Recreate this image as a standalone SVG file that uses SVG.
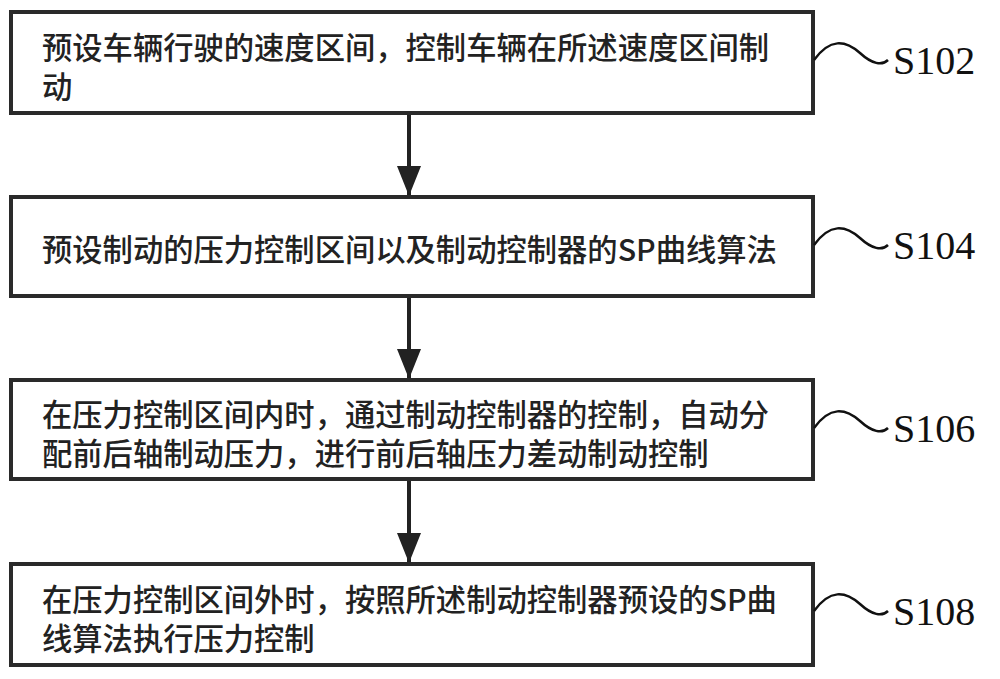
<svg xmlns="http://www.w3.org/2000/svg" width="1000" height="679" viewBox="0 0 1000 679">
<defs><marker id="ah" markerWidth="30" markerHeight="24" refX="30" refY="12" orient="auto" markerUnits="userSpaceOnUse" viewBox="0 0 30 24"><path d="M0,0 L30,12 L0,24 Z" fill="#222"/></marker></defs>
<style>
.box{fill:#fff;stroke:#2a2a2a;stroke-width:4}
.t{font-family:"Noto Sans CJK SC","Noto Sans",sans-serif;font-size:30.3px;fill:#222;font-weight:500}
.lab{font-family:"Liberation Serif",serif;font-size:40px;fill:#111}
.til{fill:none;stroke:#111;stroke-width:2.5}
.con{stroke:#222;stroke-width:4;fill:none}
</style>
<rect width="1000" height="679" fill="#fff"/>
<g id="connectors">
<line class="con" x1="409" y1="113" x2="409" y2="196" marker-end="url(#ah)"/>
<line class="con" x1="409" y1="296" x2="409" y2="379" marker-end="url(#ah)"/>
<line class="con" x1="409" y1="479" x2="409" y2="563" marker-end="url(#ah)"/>
</g>
<g id="n1"><rect class="box" x="11" y="12" width="802" height="101"/>
<text class="t" x="42" y="59">预设车辆行驶的速度区间，控制车辆在所述速度区间制</text><text class="t" x="42" y="98">动</text></g>
<g id="n2"><rect class="box" x="11" y="197" width="802" height="99"/>
<text class="t" x="42" y="261">预设制动的压力控制区间以及制动控制器的SP曲线算法</text></g>
<g id="n3"><rect class="box" x="11" y="380" width="802" height="99"/>
<text class="t" x="42" y="426">在压力控制区间内时，通过制动控制器的控制，自动分</text><text class="t" x="42" y="465">配前后轴制动压力，进行前后轴压力差动制动控制</text></g>
<g id="n4"><rect class="box" x="11" y="564" width="802" height="101"/>
<text class="t" x="42" y="611">在压力控制区间外时，按照所述制动控制器预设的SP曲</text><text class="t" x="42" y="650">线算法执行压力控制</text></g>
<g id="labels">
<path class="til" d="M814,60 C830,38 845,40 860,53 C872,64 882,66 888,60"/>
<text class="lab" x="893" y="74">S102</text>
<path class="til" d="M814,245 C830,223 845,225 860,238 C872,249 882,251 888,245"/>
<text class="lab" x="893" y="259">S104</text>
<path class="til" d="M814,428 C830,406 845,408 860,421 C872,432 882,434 888,428"/>
<text class="lab" x="893" y="442">S106</text>
<path class="til" d="M814,611 C830,589 845,591 860,604 C872,615 882,617 888,611"/>
<text class="lab" x="893" y="625">S108</text>
</g>
</svg>
